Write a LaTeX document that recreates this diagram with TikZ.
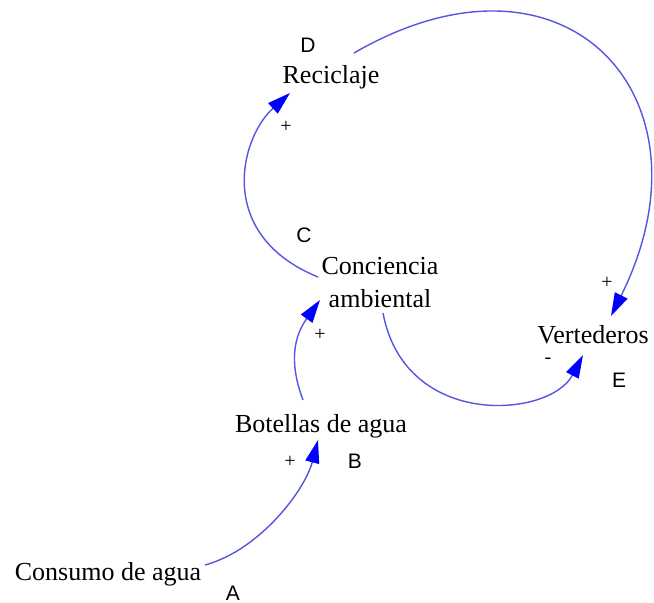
\documentclass[tikz,border=0pt]{standalone}
\usepackage{fontspec}
\setmainfont{Liberation Serif}
\newfontfamily\lettersf{Liberation Sans}
\usetikzlibrary{arrows.meta}
\definecolor{linkblue}{RGB}{85,85,225}
\definecolor{tipblue}{RGB}{0,0,255}
\begin{document}
\begin{tikzpicture}[x=1pt,y=-1pt,
  var/.style={font=\fontsize{26}{33}\selectfont, inner sep=0pt, anchor=base, align=center},
  tag/.style={font=\lettersf\fontsize{21}{24}\selectfont, inner sep=0pt, anchor=base},
  sign/.style={font=\fontsize{20}{24}\selectfont, inner sep=0pt},
  link/.style={draw=linkblue, line width=1.4pt,
    -{Triangle[length=23pt,width=14pt,color=tipblue]}},
]
\useasboundingbox (0,0) rectangle (654,603);
\fill[white] (0,0) rectangle (654,603);

% variables of the causal loop diagram (base = baseline of the last line)
\node[var] (reciclaje)  at (331,83)  {Reciclaje};
\node[var] (conciencia) at (380,307) {Conciencia\\ambiental};
\node[var] (vertederos) at (593,343) {Vertederos};
\node[var] (botellas)   at (321,432) {Botellas de agua};
\node[var] (consumo)    at (108,580) {Consumo de agua};

% letter tags
\node[tag] (tagD) at (308,52)  {D};
\node[tag] (tagC) at (304,242) {C};
\node[tag] (tagE) at (619,387) {E};
\node[tag] (tagB) at (355,468) {B};
\node[tag] (tagA) at (233,600) {A};

% polarity signs
\node[sign] (sRec)  at (286,127) {+};
\node[sign] (sCon)  at (320,335) {+};
\node[sign] (sVerT) at (607,283) {+};
\node[sign] (sVerB) at (548,361) {-};
\node[sign] (sBot)  at (290,462) {+};

% causal links
\draw[link] ([shift={(97,-15)}]consumo.base)
  .. controls (260,550) and (305,490) .. ([shift={(-3,8)}]botellas.base);
\draw[link] ([shift={(-18,-32)}]botellas.base)
  .. controls (288,360) and (295,335) .. ([shift={(-60,-7)}]conciencia.base);
\draw[link] ([shift={(-62,-30)}]conciencia.base)
  .. controls (215,235) and (240,138) .. ([shift={(-41,10)}]reciclaje.base);
\draw[link] ([shift={(23,-30)}]reciclaje.base)
  .. controls (566,-70) and (720,97) .. ([shift={(18,-27)}]vertederos.base);
\draw[link] ([shift={(3,6)}]conciencia.base)
  .. controls (405,430) and (550,418) .. ([shift={(-10,12)}]vertederos.base);
\end{tikzpicture}
\end{document}
